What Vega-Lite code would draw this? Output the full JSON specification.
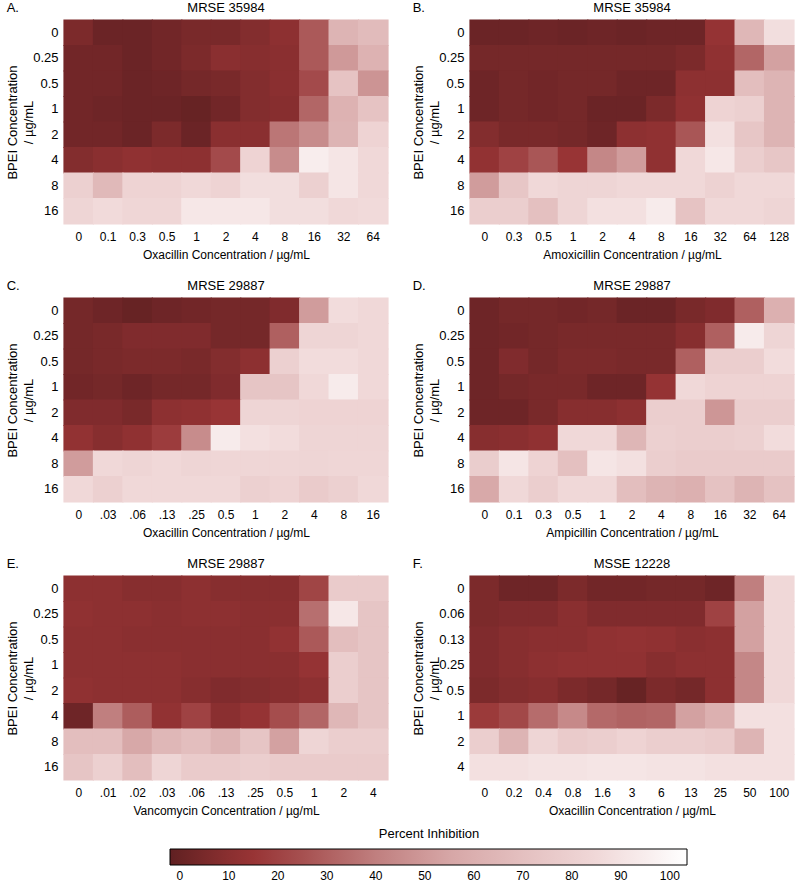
{
"$schema":"https://vega.github.io/schema/vega-lite/v6.json",
"padding":{"left":6,"top":2,"right":4,"bottom":0},
"config":{"font":"Liberation Sans","view":{"stroke":null},
 "title":{"font":"Liberation Sans","fontSize":13,"fontWeight":"normal","color":"#000","offset":4,"frame":"group"},
 "axis":{"domain":false,"ticks":false,"grid":false,"labelColor":"#000","titleColor":"#000","titleFontWeight":"normal","labelFont":"Liberation Sans","titleFont":"Liberation Sans"},
 "axisX":{"labelAngle":0,"labelFontSize":12,"labelPadding":7,"titleFontSize":12,"titlePadding":7},
 "axisY":{"labelFontSize":13,"labelPadding":6,"titleFontSize":13,"titlePadding":-3,"titleLineHeight":16}
},
"datasets":{
"A":[
{"b":"0","d":"0","v":6},{"b":"0","d":"0.1","v":1},{"b":"0","d":"0.3","v":1},{"b":"0","d":"0.5","v":3},{"b":"0","d":"1","v":5},{"b":"0","d":"2","v":5},{"b":"0","d":"4","v":8},{"b":"0","d":"8","v":11},{"b":"0","d":"16","v":28},{"b":"0","d":"32","v":63},{"b":"0","d":"64","v":67},
{"b":"0.25","d":"0","v":3},{"b":"0.25","d":"0.1","v":3},{"b":"0.25","d":"0.3","v":1},{"b":"0.25","d":"0.5","v":3},{"b":"0.25","d":"1","v":6},{"b":"0.25","d":"2","v":10},{"b":"0.25","d":"4","v":9},{"b":"0.25","d":"8","v":10},{"b":"0.25","d":"16","v":28},{"b":"0.25","d":"32","v":50},{"b":"0.25","d":"64","v":62},
{"b":"0.5","d":"0","v":3},{"b":"0.5","d":"0.1","v":3},{"b":"0.5","d":"0.3","v":1},{"b":"0.5","d":"0.5","v":2},{"b":"0.5","d":"1","v":4},{"b":"0.5","d":"2","v":5},{"b":"0.5","d":"4","v":8},{"b":"0.5","d":"8","v":10},{"b":"0.5","d":"16","v":23},{"b":"0.5","d":"32","v":72},{"b":"0.5","d":"64","v":48},
{"b":"1","d":"0","v":3},{"b":"1","d":"0.1","v":2},{"b":"1","d":"0.3","v":1},{"b":"1","d":"0.5","v":1},{"b":"1","d":"1","v":0},{"b":"1","d":"2","v":3},{"b":"1","d":"4","v":8},{"b":"1","d":"8","v":9},{"b":"1","d":"16","v":32},{"b":"1","d":"32","v":62},{"b":"1","d":"64","v":72},
{"b":"2","d":"0","v":3},{"b":"2","d":"0.1","v":3},{"b":"2","d":"0.3","v":1},{"b":"2","d":"0.5","v":6},{"b":"2","d":"1","v":1},{"b":"2","d":"2","v":10},{"b":"2","d":"4","v":10},{"b":"2","d":"8","v":37},{"b":"2","d":"16","v":45},{"b":"2","d":"32","v":63},{"b":"2","d":"64","v":82},
{"b":"4","d":"0","v":8},{"b":"4","d":"0.1","v":10},{"b":"4","d":"0.3","v":12},{"b":"4","d":"0.5","v":11},{"b":"4","d":"1","v":11},{"b":"4","d":"2","v":23},{"b":"4","d":"4","v":82},{"b":"4","d":"8","v":45},{"b":"4","d":"16","v":95},{"b":"4","d":"32","v":91},{"b":"4","d":"64","v":85},
{"b":"8","d":"0","v":80},{"b":"8","d":"0.1","v":66},{"b":"8","d":"0.3","v":82},{"b":"8","d":"0.5","v":82},{"b":"8","d":"1","v":85},{"b":"8","d":"2","v":82},{"b":"8","d":"4","v":88},{"b":"8","d":"8","v":88},{"b":"8","d":"16","v":80},{"b":"8","d":"32","v":91},{"b":"8","d":"64","v":85},
{"b":"16","d":"0","v":83},{"b":"16","d":"0.1","v":86},{"b":"16","d":"0.3","v":84},{"b":"16","d":"0.5","v":84},{"b":"16","d":"1","v":92},{"b":"16","d":"2","v":92},{"b":"16","d":"4","v":92},{"b":"16","d":"8","v":88},{"b":"16","d":"16","v":88},{"b":"16","d":"32","v":85},{"b":"16","d":"64","v":86}
],
"B":[
{"b":"0","d":"0","v":1},{"b":"0","d":"0.3","v":1},{"b":"0","d":"0.5","v":2},{"b":"0","d":"1","v":1},{"b":"0","d":"2","v":2},{"b":"0","d":"4","v":1},{"b":"0","d":"8","v":2},{"b":"0","d":"16","v":2},{"b":"0","d":"32","v":14},{"b":"0","d":"64","v":65},{"b":"0","d":"128","v":88},
{"b":"0.25","d":"0","v":4},{"b":"0.25","d":"0.3","v":4},{"b":"0.25","d":"0.5","v":4},{"b":"0.25","d":"1","v":4},{"b":"0.25","d":"2","v":4},{"b":"0.25","d":"4","v":4},{"b":"0.25","d":"8","v":4},{"b":"0.25","d":"16","v":6},{"b":"0.25","d":"32","v":12},{"b":"0.25","d":"64","v":32},{"b":"0.25","d":"128","v":53},
{"b":"0.5","d":"0","v":2},{"b":"0.5","d":"0.3","v":4},{"b":"0.5","d":"0.5","v":3},{"b":"0.5","d":"1","v":4},{"b":"0.5","d":"2","v":4},{"b":"0.5","d":"4","v":2},{"b":"0.5","d":"8","v":2},{"b":"0.5","d":"16","v":11},{"b":"0.5","d":"32","v":11},{"b":"0.5","d":"64","v":69},{"b":"0.5","d":"128","v":63},
{"b":"1","d":"0","v":2},{"b":"1","d":"0.3","v":4},{"b":"1","d":"0.5","v":3},{"b":"1","d":"1","v":4},{"b":"1","d":"2","v":1},{"b":"1","d":"4","v":1},{"b":"1","d":"8","v":6},{"b":"1","d":"16","v":12},{"b":"1","d":"32","v":82},{"b":"1","d":"64","v":80},{"b":"1","d":"128","v":63},
{"b":"2","d":"0","v":8},{"b":"2","d":"0.3","v":5},{"b":"2","d":"0.5","v":5},{"b":"2","d":"1","v":4},{"b":"2","d":"2","v":2},{"b":"2","d":"4","v":11},{"b":"2","d":"8","v":12},{"b":"2","d":"16","v":27},{"b":"2","d":"32","v":89},{"b":"2","d":"64","v":74},{"b":"2","d":"128","v":63},
{"b":"4","d":"0","v":13},{"b":"4","d":"0.3","v":20},{"b":"4","d":"0.5","v":27},{"b":"4","d":"1","v":15},{"b":"4","d":"2","v":43},{"b":"4","d":"4","v":51},{"b":"4","d":"8","v":12},{"b":"4","d":"16","v":85},{"b":"4","d":"32","v":92},{"b":"4","d":"64","v":79},{"b":"4","d":"128","v":74},
{"b":"8","d":"0","v":51},{"b":"8","d":"0.3","v":74},{"b":"8","d":"0.5","v":85},{"b":"8","d":"1","v":83},{"b":"8","d":"2","v":83},{"b":"8","d":"4","v":85},{"b":"8","d":"8","v":85},{"b":"8","d":"16","v":85},{"b":"8","d":"32","v":81},{"b":"8","d":"64","v":85},{"b":"8","d":"128","v":85},
{"b":"16","d":"0","v":79},{"b":"16","d":"0.3","v":79},{"b":"16","d":"0.5","v":70},{"b":"16","d":"1","v":83},{"b":"16","d":"2","v":89},{"b":"16","d":"4","v":89},{"b":"16","d":"8","v":94},{"b":"16","d":"16","v":72},{"b":"16","d":"32","v":85},{"b":"16","d":"64","v":85},{"b":"16","d":"128","v":83}
],
"C":[
{"b":"0","d":"0","v":4},{"b":"0","d":".03","v":2},{"b":"0","d":".06","v":0},{"b":"0","d":".13","v":2},{"b":"0","d":".25","v":3},{"b":"0","d":"0.5","v":4},{"b":"0","d":"1","v":4},{"b":"0","d":"2","v":7},{"b":"0","d":"4","v":51},{"b":"0","d":"8","v":87},{"b":"0","d":"16","v":85},
{"b":"0.25","d":"0","v":4},{"b":"0.25","d":".03","v":5},{"b":"0.25","d":".06","v":7},{"b":"0.25","d":".13","v":7},{"b":"0.25","d":".25","v":7},{"b":"0.25","d":"0.5","v":4},{"b":"0.25","d":"1","v":4},{"b":"0.25","d":"2","v":30},{"b":"0.25","d":"4","v":83},{"b":"0.25","d":"8","v":83},{"b":"0.25","d":"16","v":85},
{"b":"0.5","d":"0","v":4},{"b":"0.5","d":".03","v":5},{"b":"0.5","d":".06","v":6},{"b":"0.5","d":".13","v":6},{"b":"0.5","d":".25","v":5},{"b":"0.5","d":"0.5","v":8},{"b":"0.5","d":"1","v":11},{"b":"0.5","d":"2","v":80},{"b":"0.5","d":"4","v":87},{"b":"0.5","d":"8","v":87},{"b":"0.5","d":"16","v":85},
{"b":"1","d":"0","v":3},{"b":"1","d":".03","v":4},{"b":"1","d":".06","v":2},{"b":"1","d":".13","v":4},{"b":"1","d":".25","v":4},{"b":"1","d":"0.5","v":7},{"b":"1","d":"1","v":73},{"b":"1","d":"2","v":73},{"b":"1","d":"4","v":85},{"b":"1","d":"8","v":94},{"b":"1","d":"16","v":85},
{"b":"2","d":"0","v":7},{"b":"2","d":".03","v":7},{"b":"2","d":".06","v":5},{"b":"2","d":".13","v":11},{"b":"2","d":".25","v":12},{"b":"2","d":"0.5","v":15},{"b":"2","d":"1","v":83},{"b":"2","d":"2","v":83},{"b":"2","d":"4","v":82},{"b":"2","d":"8","v":82},{"b":"2","d":"16","v":82},
{"b":"4","d":"0","v":13},{"b":"4","d":".03","v":9},{"b":"4","d":".06","v":12},{"b":"4","d":".13","v":18},{"b":"4","d":".25","v":45},{"b":"4","d":"0.5","v":94},{"b":"4","d":"1","v":89},{"b":"4","d":"2","v":87},{"b":"4","d":"4","v":83},{"b":"4","d":"8","v":83},{"b":"4","d":"16","v":83},
{"b":"8","d":"0","v":51},{"b":"8","d":".03","v":85},{"b":"8","d":".06","v":83},{"b":"8","d":".13","v":85},{"b":"8","d":".25","v":83},{"b":"8","d":"0.5","v":84},{"b":"8","d":"1","v":84},{"b":"8","d":"2","v":84},{"b":"8","d":"4","v":83},{"b":"8","d":"8","v":84},{"b":"8","d":"16","v":84},
{"b":"16","d":"0","v":85},{"b":"16","d":".03","v":80},{"b":"16","d":".06","v":85},{"b":"16","d":".13","v":85},{"b":"16","d":".25","v":85},{"b":"16","d":"0.5","v":85},{"b":"16","d":"1","v":80},{"b":"16","d":"2","v":82},{"b":"16","d":"4","v":77},{"b":"16","d":"8","v":80},{"b":"16","d":"16","v":85}
],
"D":[
{"b":"0","d":"0","v":2},{"b":"0","d":"0.1","v":4},{"b":"0","d":"0.3","v":4},{"b":"0","d":"0.5","v":3},{"b":"0","d":"1","v":4},{"b":"0","d":"2","v":1},{"b":"0","d":"4","v":1},{"b":"0","d":"8","v":5},{"b":"0","d":"16","v":7},{"b":"0","d":"32","v":30},{"b":"0","d":"64","v":61},
{"b":"0.25","d":"0","v":2},{"b":"0.25","d":"0.1","v":3},{"b":"0.25","d":"0.3","v":4},{"b":"0.25","d":"0.5","v":5},{"b":"0.25","d":"1","v":5},{"b":"0.25","d":"2","v":5},{"b":"0.25","d":"4","v":5},{"b":"0.25","d":"8","v":9},{"b":"0.25","d":"16","v":30},{"b":"0.25","d":"32","v":94},{"b":"0.25","d":"64","v":83},
{"b":"0.5","d":"0","v":2},{"b":"0.5","d":"0.1","v":7},{"b":"0.5","d":"0.3","v":4},{"b":"0.5","d":"0.5","v":6},{"b":"0.5","d":"1","v":6},{"b":"0.5","d":"2","v":5},{"b":"0.5","d":"4","v":5},{"b":"0.5","d":"8","v":30},{"b":"0.5","d":"16","v":79},{"b":"0.5","d":"32","v":79},{"b":"0.5","d":"64","v":87},
{"b":"1","d":"0","v":2},{"b":"1","d":"0.1","v":4},{"b":"1","d":"0.3","v":5},{"b":"1","d":"0.5","v":5},{"b":"1","d":"1","v":2},{"b":"1","d":"2","v":2},{"b":"1","d":"4","v":14},{"b":"1","d":"8","v":85},{"b":"1","d":"16","v":82},{"b":"1","d":"32","v":82},{"b":"1","d":"64","v":82},
{"b":"2","d":"0","v":2},{"b":"2","d":"0.1","v":2},{"b":"2","d":"0.3","v":5},{"b":"2","d":"0.5","v":9},{"b":"2","d":"1","v":9},{"b":"2","d":"2","v":11},{"b":"2","d":"4","v":79},{"b":"2","d":"8","v":79},{"b":"2","d":"16","v":49},{"b":"2","d":"32","v":79},{"b":"2","d":"64","v":79},
{"b":"4","d":"0","v":9},{"b":"4","d":"0.1","v":10},{"b":"4","d":"0.3","v":12},{"b":"4","d":"0.5","v":85},{"b":"4","d":"1","v":85},{"b":"4","d":"2","v":64},{"b":"4","d":"4","v":80},{"b":"4","d":"8","v":79},{"b":"4","d":"16","v":79},{"b":"4","d":"32","v":80},{"b":"4","d":"64","v":87},
{"b":"8","d":"0","v":78},{"b":"8","d":"0.1","v":91},{"b":"8","d":"0.3","v":82},{"b":"8","d":"0.5","v":70},{"b":"8","d":"1","v":91},{"b":"8","d":"2","v":89},{"b":"8","d":"4","v":79},{"b":"8","d":"8","v":77},{"b":"8","d":"16","v":77},{"b":"8","d":"32","v":77},{"b":"8","d":"64","v":77},
{"b":"16","d":"0","v":57},{"b":"16","d":"0.1","v":85},{"b":"16","d":"0.3","v":79},{"b":"16","d":"0.5","v":85},{"b":"16","d":"1","v":85},{"b":"16","d":"2","v":69},{"b":"16","d":"4","v":63},{"b":"16","d":"8","v":61},{"b":"16","d":"16","v":71},{"b":"16","d":"32","v":63},{"b":"16","d":"64","v":71}
],
"E":[
{"b":"0","d":"0","v":11},{"b":"0","d":".01","v":11},{"b":"0","d":".02","v":9},{"b":"0","d":".03","v":9},{"b":"0","d":".06","v":11},{"b":"0","d":".13","v":9},{"b":"0","d":".25","v":9},{"b":"0","d":"0.5","v":9},{"b":"0","d":"1","v":21},{"b":"0","d":"2","v":77},{"b":"0","d":"4","v":77},
{"b":"0.25","d":"0","v":12},{"b":"0.25","d":".01","v":11},{"b":"0.25","d":".02","v":11},{"b":"0.25","d":".03","v":10},{"b":"0.25","d":".06","v":11},{"b":"0.25","d":".13","v":11},{"b":"0.25","d":".25","v":10},{"b":"0.25","d":"0.5","v":10},{"b":"0.25","d":"1","v":35},{"b":"0.25","d":"2","v":92},{"b":"0.25","d":"4","v":73},
{"b":"0.5","d":"0","v":11},{"b":"0.5","d":".01","v":11},{"b":"0.5","d":".02","v":10},{"b":"0.5","d":".03","v":10},{"b":"0.5","d":".06","v":10},{"b":"0.5","d":".13","v":10},{"b":"0.5","d":".25","v":10},{"b":"0.5","d":"0.5","v":13},{"b":"0.5","d":"1","v":28},{"b":"0.5","d":"2","v":69},{"b":"0.5","d":"4","v":73},
{"b":"1","d":"0","v":11},{"b":"1","d":".01","v":11},{"b":"1","d":".02","v":11},{"b":"1","d":".03","v":11},{"b":"1","d":".06","v":10},{"b":"1","d":".13","v":10},{"b":"1","d":".25","v":10},{"b":"1","d":"0.5","v":10},{"b":"1","d":"1","v":14},{"b":"1","d":"2","v":79},{"b":"1","d":"4","v":73},
{"b":"2","d":"0","v":12},{"b":"2","d":".01","v":11},{"b":"2","d":".02","v":11},{"b":"2","d":".03","v":11},{"b":"2","d":".06","v":9},{"b":"2","d":".13","v":7},{"b":"2","d":".25","v":8},{"b":"2","d":"0.5","v":9},{"b":"2","d":"1","v":11},{"b":"2","d":"2","v":79},{"b":"2","d":"4","v":73},
{"b":"4","d":"0","v":2},{"b":"4","d":".01","v":40},{"b":"4","d":".02","v":29},{"b":"4","d":".03","v":13},{"b":"4","d":".06","v":20},{"b":"4","d":".13","v":10},{"b":"4","d":".25","v":14},{"b":"4","d":"0.5","v":24},{"b":"4","d":"1","v":32},{"b":"4","d":"2","v":65},{"b":"4","d":"4","v":73},
{"b":"8","d":"0","v":69},{"b":"8","d":".01","v":69},{"b":"8","d":".02","v":56},{"b":"8","d":".03","v":65},{"b":"8","d":".06","v":69},{"b":"8","d":".13","v":63},{"b":"8","d":".25","v":73},{"b":"8","d":"0.5","v":53},{"b":"8","d":"1","v":83},{"b":"8","d":"2","v":79},{"b":"8","d":"4","v":79},
{"b":"16","d":"0","v":73},{"b":"16","d":".01","v":80},{"b":"16","d":".02","v":69},{"b":"16","d":".03","v":83},{"b":"16","d":".06","v":77},{"b":"16","d":".13","v":77},{"b":"16","d":".25","v":79},{"b":"16","d":"0.5","v":77},{"b":"16","d":"1","v":77},{"b":"16","d":"2","v":77},{"b":"16","d":"4","v":77}
],
"F":[
{"b":"0","d":"0","v":6},{"b":"0","d":"0.2","v":2},{"b":"0","d":"0.4","v":2},{"b":"0","d":"0.8","v":6},{"b":"0","d":"1.6","v":3},{"b":"0","d":"3","v":3},{"b":"0","d":"6","v":4},{"b":"0","d":"13","v":4},{"b":"0","d":"25","v":2},{"b":"0","d":"50","v":40},{"b":"0","d":"100","v":85},
{"b":"0.06","d":"0","v":6},{"b":"0.06","d":"0.2","v":7},{"b":"0.06","d":"0.4","v":7},{"b":"0.06","d":"0.8","v":10},{"b":"0.06","d":"1.6","v":7},{"b":"0.06","d":"3","v":7},{"b":"0.06","d":"6","v":7},{"b":"0.06","d":"13","v":7},{"b":"0.06","d":"25","v":20},{"b":"0.06","d":"50","v":53},{"b":"0.06","d":"100","v":85},
{"b":"0.13","d":"0","v":7},{"b":"0.13","d":"0.2","v":9},{"b":"0.13","d":"0.4","v":10},{"b":"0.13","d":"0.8","v":10},{"b":"0.13","d":"1.6","v":12},{"b":"0.13","d":"3","v":13},{"b":"0.13","d":"6","v":12},{"b":"0.13","d":"13","v":10},{"b":"0.13","d":"25","v":11},{"b":"0.13","d":"50","v":53},{"b":"0.13","d":"100","v":85},
{"b":"0.25","d":"0","v":7},{"b":"0.25","d":"0.2","v":9},{"b":"0.25","d":"0.4","v":11},{"b":"0.25","d":"0.8","v":12},{"b":"0.25","d":"1.6","v":12},{"b":"0.25","d":"3","v":12},{"b":"0.25","d":"6","v":9},{"b":"0.25","d":"13","v":11},{"b":"0.25","d":"25","v":11},{"b":"0.25","d":"50","v":43},{"b":"0.25","d":"100","v":85},
{"b":"0.5","d":"0","v":6},{"b":"0.5","d":"0.2","v":8},{"b":"0.5","d":"0.4","v":9},{"b":"0.5","d":"0.8","v":6},{"b":"0.5","d":"1.6","v":4},{"b":"0.5","d":"3","v":0},{"b":"0.5","d":"6","v":6},{"b":"0.5","d":"13","v":4},{"b":"0.5","d":"25","v":11},{"b":"0.5","d":"50","v":43},{"b":"0.5","d":"100","v":85},
{"b":"1","d":"0","v":17},{"b":"1","d":"0.2","v":22},{"b":"1","d":"0.4","v":34},{"b":"1","d":"0.8","v":44},{"b":"1","d":"1.6","v":33},{"b":"1","d":"3","v":31},{"b":"1","d":"6","v":32},{"b":"1","d":"13","v":53},{"b":"1","d":"25","v":61},{"b":"1","d":"50","v":89},{"b":"1","d":"100","v":89},
{"b":"2","d":"0","v":79},{"b":"2","d":"0.2","v":63},{"b":"2","d":"0.4","v":83},{"b":"2","d":"0.8","v":77},{"b":"2","d":"1.6","v":79},{"b":"2","d":"3","v":82},{"b":"2","d":"6","v":79},{"b":"2","d":"13","v":79},{"b":"2","d":"25","v":77},{"b":"2","d":"50","v":63},{"b":"2","d":"100","v":89},
{"b":"4","d":"0","v":89},{"b":"4","d":"0.2","v":89},{"b":"4","d":"0.4","v":90},{"b":"4","d":"0.8","v":90},{"b":"4","d":"1.6","v":91},{"b":"4","d":"3","v":91},{"b":"4","d":"6","v":90},{"b":"4","d":"13","v":90},{"b":"4","d":"25","v":89},{"b":"4","d":"50","v":89},{"b":"4","d":"100","v":89}
]
},
"columns":2,
"spacing":{"row":20,"column":23},
"resolve":{"scale":{"x":"independent","y":"independent"}},
"concat":[
{"title":{"text":"A.","anchor":"start","frame":"bounds","dy":17},
 "vconcat":[{"data":{"name":"A"},"title":"MRSE 35984","width":324,"height":204,
  "mark":{"type":"rect","width":{"band":1.04},"height":{"band":1.04}},
  "encoding":{
   "x":{"field":"d","type":"ordinal","sort":["0","0.1","0.3","0.5","1","2","4","8","16","32","64"],"axis":{"title":"Oxacillin Concentration / µg/mL"}},
   "y":{"field":"b","type":"ordinal","sort":["0","0.25","0.5","1","2","4","8","16"],"axis":{"title":["BPEI Concentration","/ µg/mL"]}},
   "color":{"field":"v","type":"quantitative","title":"Percent Inhibition","scale":{"domain":[-2,10,15,25,40,55,70,85,103.5],"range":["#602022","#8a2f30","#983435","#a65050","#c07f7f","#d6a6a6","#e4c0c0","#f0d8d8","#ffffff"],"interpolate":"rgb"},
    "legend":{"type":"gradient","orient":"none","legendX":106,"legendY":808,"direction":"horizontal","gradientLength":517,"gradientThickness":16,"gradientStrokeColor":"#000","gradientStrokeWidth":1,"values":[0,10,20,30,40,50,60,70,80,90,100],"labelAlign":"center","labelFontSize":12,"labelOffset":6,"labelColor":"#000","titleFontSize":13,"titleFontWeight":"normal","titleColor":"#000","titleAnchor":"middle","titlePadding":8,"padding":0}}
  }}]},
{"title":{"text":"B.","anchor":"start","frame":"bounds","dy":17},
 "vconcat":[{"data":{"name":"B"},"title":"MRSE 35984","width":324,"height":204,
  "mark":{"type":"rect","width":{"band":1.04},"height":{"band":1.04}},
  "encoding":{
   "x":{"field":"d","type":"ordinal","sort":["0","0.3","0.5","1","2","4","8","16","32","64","128"],"axis":{"title":"Amoxicillin Concentration / µg/mL"}},
   "y":{"field":"b","type":"ordinal","sort":["0","0.25","0.5","1","2","4","8","16"],"axis":{"title":["BPEI Concentration","/ µg/mL"]}},
   "color":{"field":"v","type":"quantitative","title":"Percent Inhibition","scale":{"domain":[-2,10,15,25,40,55,70,85,103.5],"range":["#602022","#8a2f30","#983435","#a65050","#c07f7f","#d6a6a6","#e4c0c0","#f0d8d8","#ffffff"],"interpolate":"rgb"}}
  }}]},
{"title":{"text":"C.","anchor":"start","frame":"bounds","dy":17},
 "vconcat":[{"data":{"name":"C"},"title":"MRSE 29887","width":324,"height":204,
  "mark":{"type":"rect","width":{"band":1.04},"height":{"band":1.04}},
  "encoding":{
   "x":{"field":"d","type":"ordinal","sort":["0",".03",".06",".13",".25","0.5","1","2","4","8","16"],"axis":{"title":"Oxacillin Concentration / µg/mL"}},
   "y":{"field":"b","type":"ordinal","sort":["0","0.25","0.5","1","2","4","8","16"],"axis":{"title":["BPEI Concentration","/ µg/mL"]}},
   "color":{"field":"v","type":"quantitative","title":"Percent Inhibition","scale":{"domain":[-2,10,15,25,40,55,70,85,103.5],"range":["#602022","#8a2f30","#983435","#a65050","#c07f7f","#d6a6a6","#e4c0c0","#f0d8d8","#ffffff"],"interpolate":"rgb"}}
  }}]},
{"title":{"text":"D.","anchor":"start","frame":"bounds","dy":17},
 "vconcat":[{"data":{"name":"D"},"title":"MRSE 29887","width":324,"height":204,
  "mark":{"type":"rect","width":{"band":1.04},"height":{"band":1.04}},
  "encoding":{
   "x":{"field":"d","type":"ordinal","sort":["0","0.1","0.3","0.5","1","2","4","8","16","32","64"],"axis":{"title":"Ampicillin Concentration / µg/mL"}},
   "y":{"field":"b","type":"ordinal","sort":["0","0.25","0.5","1","2","4","8","16"],"axis":{"title":["BPEI Concentration","/ µg/mL"]}},
   "color":{"field":"v","type":"quantitative","title":"Percent Inhibition","scale":{"domain":[-2,10,15,25,40,55,70,85,103.5],"range":["#602022","#8a2f30","#983435","#a65050","#c07f7f","#d6a6a6","#e4c0c0","#f0d8d8","#ffffff"],"interpolate":"rgb"}}
  }}]},
{"title":{"text":"E.","anchor":"start","frame":"bounds","dy":17},
 "vconcat":[{"data":{"name":"E"},"title":"MRSE 29887","width":324,"height":204,
  "mark":{"type":"rect","width":{"band":1.04},"height":{"band":1.04}},
  "encoding":{
   "x":{"field":"d","type":"ordinal","sort":["0",".01",".02",".03",".06",".13",".25","0.5","1","2","4"],"axis":{"title":"Vancomycin Concentration / µg/mL"}},
   "y":{"field":"b","type":"ordinal","sort":["0","0.25","0.5","1","2","4","8","16"],"axis":{"title":["BPEI Concentration","/ µg/mL"]}},
   "color":{"field":"v","type":"quantitative","title":"Percent Inhibition","scale":{"domain":[-2,10,15,25,40,55,70,85,103.5],"range":["#602022","#8a2f30","#983435","#a65050","#c07f7f","#d6a6a6","#e4c0c0","#f0d8d8","#ffffff"],"interpolate":"rgb"}}
  }}]},
{"title":{"text":"F.","anchor":"start","frame":"bounds","dy":17},
 "vconcat":[{"data":{"name":"F"},"title":"MSSE 12228","width":324,"height":204,
  "mark":{"type":"rect","width":{"band":1.04},"height":{"band":1.04}},
  "encoding":{
   "x":{"field":"d","type":"ordinal","sort":["0","0.2","0.4","0.8","1.6","3","6","13","25","50","100"],"axis":{"title":"Oxacillin Concentration / µg/mL"}},
   "y":{"field":"b","type":"ordinal","sort":["0","0.06","0.13","0.25","0.5","1","2","4"],"axis":{"title":["BPEI Concentration","/ µg/mL"]}},
   "color":{"field":"v","type":"quantitative","title":"Percent Inhibition","scale":{"domain":[-2,10,15,25,40,55,70,85,103.5],"range":["#602022","#8a2f30","#983435","#a65050","#c07f7f","#d6a6a6","#e4c0c0","#f0d8d8","#ffffff"],"interpolate":"rgb"}}
  }}]}
]
}
